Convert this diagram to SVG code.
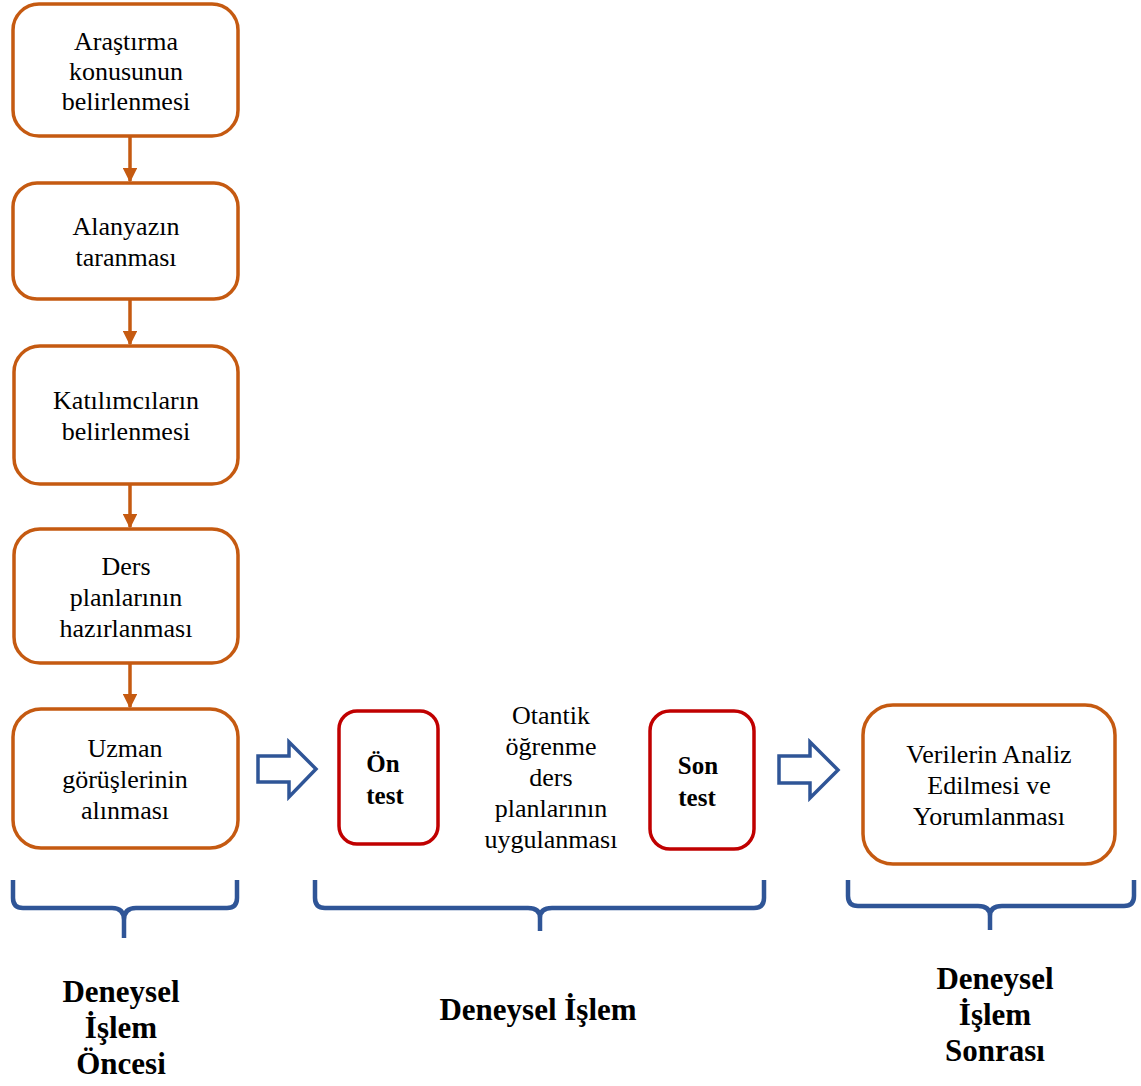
<svg xmlns="http://www.w3.org/2000/svg" width="1141" height="1086" viewBox="0 0 1141 1086">
  <defs>
    <style>
      .step { fill: #ffffff; stroke: #C55A11; stroke-width: 3.5; }
      .test { fill: #ffffff; stroke: #C00000; stroke-width: 3.5; }
      .t { font-family: "Liberation Serif", "Times New Roman", serif; font-size: 26px; fill: #000; text-anchor: middle; }
      .tb { font-family: "Liberation Serif", "Times New Roman", serif; font-size: 25px; font-weight: bold; fill: #000; text-anchor: middle; }
      .lbl { font-family: "Liberation Serif", "Times New Roman", serif; font-size: 31px; font-weight: bold; fill: #000; text-anchor: middle; }
      .flow { stroke: #C55A11; stroke-width: 3.5; fill: none; }
      .block { fill: #ffffff; stroke: #2F5597; stroke-width: 3.5; stroke-linejoin: miter; }
      .brace { fill: none; stroke: #2F5597; stroke-width: 4.5; stroke-linecap: butt; }
    </style>
    <marker id="ah" viewBox="0 0 10 10" refX="9" refY="5" markerWidth="4.2" markerHeight="4.2" markerUnits="strokeWidth" orient="auto">
      <path d="M0,0 L10,5 L0,10 z" fill="#C55A11"/>
    </marker>
  </defs>

  <!-- connectors -->
  <g id="connectors">
    <line class="flow" x1="130" y1="137" x2="130" y2="181" marker-end="url(#ah)"/>
    <line class="flow" x1="130" y1="300" x2="130" y2="344" marker-end="url(#ah)"/>
    <line class="flow" x1="130" y1="485" x2="130" y2="527" marker-end="url(#ah)"/>
    <line class="flow" x1="130" y1="664" x2="130" y2="707" marker-end="url(#ah)"/>
    <path class="block" d="M258,756 H289 V742 L316,769 L289,797 V782 H258 Z"/>
    <path class="block" d="M779,756 H810 V742 L838,770 L810,798 V783 H779 Z"/>
  </g>

  <!-- left column steps -->
  <g id="n1">
    <rect class="step" x="13" y="4" width="225" height="132" rx="26"/>
    <text class="t" x="126" y="50">Araştırma</text>
    <text class="t" x="126" y="80">konusunun</text>
    <text class="t" x="126" y="110">belirlenmesi</text>
  </g>
  <g id="n2">
    <rect class="step" x="13" y="183" width="225" height="116" rx="24"/>
    <text class="t" x="126" y="235">Alanyazın</text>
    <text class="t" x="126" y="266">taranması</text>
  </g>
  <g id="n3">
    <rect class="step" x="14" y="346" width="224" height="138" rx="26"/>
    <text class="t" x="126" y="409">Katılımcıların</text>
    <text class="t" x="126" y="440">belirlenmesi</text>
  </g>
  <g id="n4">
    <rect class="step" x="14" y="529" width="224" height="134" rx="26"/>
    <text class="t" x="126" y="575">Ders</text>
    <text class="t" x="126" y="606">planlarının</text>
    <text class="t" x="126" y="637">hazırlanması</text>
  </g>
  <g id="n5">
    <rect class="step" x="13" y="709" width="225" height="139" rx="28"/>
    <text class="t" x="125" y="757">Uzman</text>
    <text class="t" x="125" y="788">görüşlerinin</text>
    <text class="t" x="125" y="819">alınması</text>
  </g>

  <!-- experimental phase -->
  <g id="n6">
    <rect class="test" x="339" y="711" width="99" height="133" rx="18"/>
    <text class="tb" x="383" y="772">Ön</text>
    <text class="tb" x="385" y="804">test</text>
  </g>
  <g id="n7">
    <text class="t" x="551" y="724">Otantik</text>
    <text class="t" x="551" y="755">öğrenme</text>
    <text class="t" x="551" y="786">ders</text>
    <text class="t" x="551" y="817">planlarının</text>
    <text class="t" x="551" y="848">uygulanması</text>
  </g>
  <g id="n8">
    <rect class="test" x="650" y="711" width="104" height="138" rx="20"/>
    <text class="tb" x="698" y="774">Son</text>
    <text class="tb" x="697" y="806">test</text>
  </g>

  <!-- post phase -->
  <g id="n9">
    <rect class="step" x="863" y="705" width="252" height="159" rx="30"/>
    <text class="t" x="989" y="763">Verilerin Analiz</text>
    <text class="t" x="989" y="794">Edilmesi ve</text>
    <text class="t" x="989" y="825">Yorumlanması</text>
  </g>

  <!-- phase braces -->
  <g id="braces">
    <path class="brace" d="M13,880 V898 Q13,908 23,908 H112 Q124,908 124,920 V938 M124,920 Q124,908 136,908 H227 Q237,908 237,898 V880"/>
    <path class="brace" d="M315,880 V898 Q315,908 325,908 H528 Q540,908 540,918 V931 M540,918 Q540,908 552,908 H754 Q764,908 764,898 V880"/>
    <path class="brace" d="M848,880 V896 Q848,906 858,906 H978 Q990,906 990,916 V930 M990,916 Q990,906 1002,906 H1124 Q1134,906 1134,896 V880"/>
  </g>

  <!-- phase labels -->
  <g id="labels">
    <text class="lbl" x="121" y="1002">Deneysel</text>
    <text class="lbl" x="121" y="1038">İşlem</text>
    <text class="lbl" x="121" y="1074">Öncesi</text>
    <text class="lbl" x="538" y="1020">Deneysel İşlem</text>
    <text class="lbl" x="995" y="989">Deneysel</text>
    <text class="lbl" x="995" y="1025">İşlem</text>
    <text class="lbl" x="995" y="1061">Sonrası</text>
  </g>
</svg>
